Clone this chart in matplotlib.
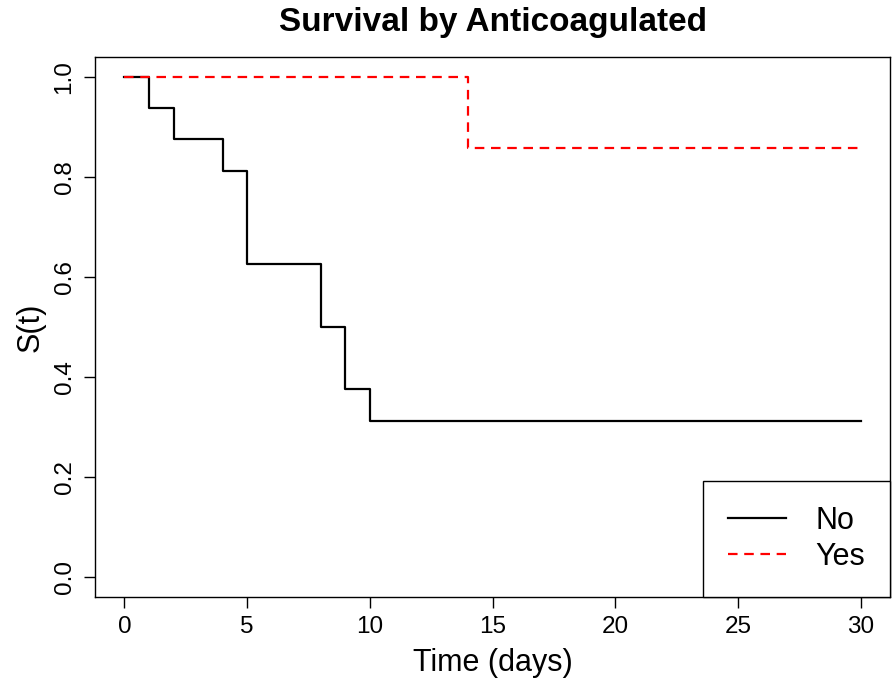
import matplotlib
matplotlib.use("Agg")
import matplotlib.pyplot as plt

plt.rcParams['font.family'] = ['Liberation Sans', 'DejaVu Sans']

# Kaplan-Meier step estimates
time_no = [0, 1, 2, 4, 5, 8, 9, 10, 30]
surv_no = [1.0, 0.9375, 0.875, 0.8125, 0.625, 0.5, 0.375, 0.3125, 0.3125]

time_yes = [0, 14, 30]
surv_yes = [1.0, 0.857, 0.857]

group_labels = ['No', 'Yes']
x_ticks = [0, 5, 10, 15, 20, 25, 30]
y_ticks = [0.0, 0.2, 0.4, 0.6, 0.8, 1.0]

fig = plt.figure(figsize=(8.94, 6.9), dpi=100)
ax = fig.add_axes([0.1063, 0.1348, 0.8892, 0.7826])

ax.step(time_no, surv_no, where='post', color='black', lw=1.6, label=group_labels[0])
ax.step(time_yes, surv_yes, where='post', color='red', lw=1.6,
        linestyle=(0, (4.3, 3.0)), label=group_labels[1])

ax.set_xlim(-1.2, 31.2)
ax.set_ylim(-0.04, 1.04)
ax.set_xticks(x_ticks)
ax.set_yticks(y_ticks)
ax.set_xticklabels([str(t) for t in x_ticks])
ax.set_yticklabels([f"{v:.1f}" for v in y_ticks], rotation=90, va='center')
ax.tick_params(direction='out', length=8, width=1, labelsize=17.5, pad=6)

for s in ax.spines.values():
    s.set_linewidth(1)

ax.set_xlabel('Time (days)', fontsize=22, labelpad=7)
ax.set_ylabel('S(t)', fontsize=22, labelpad=6)
ax.set_title('Survival by Anticoagulated', fontsize=24, fontweight='bold', pad=19)

leg = ax.legend(loc='lower right', borderaxespad=0, fontsize=22, frameon=True,
                fancybox=False, edgecolor='black', framealpha=1,
                handlelength=1.9, handletextpad=0.95, borderpad=0.82,
                labelspacing=0.2)
leg.get_frame().set_linewidth(1)

fig.savefig('out.png', dpi=100)
